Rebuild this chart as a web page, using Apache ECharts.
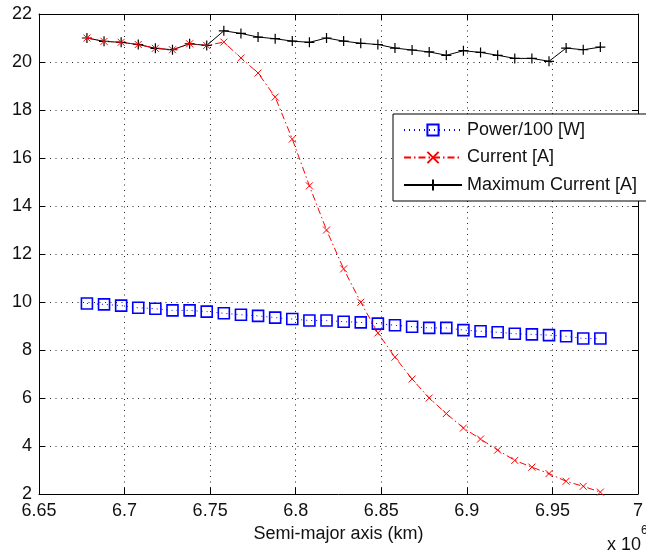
<!DOCTYPE html>
<html>
<head>
<meta charset="utf-8">
<script src="https://cdn.jsdelivr.net/npm/echarts@6/dist/echarts.min.js"></script>
<style>
html,body{margin:0;padding:0;background:#fff;}
#chart{width:646px;height:550px;}
</style>
</head>
<body>
<div id="chart"></div>
<script>
// Semi-major axis (x 10^6 km)
var semiMajorAxis = [6.678, 6.688, 6.698, 6.708, 6.718, 6.728, 6.738, 6.748, 6.758, 6.768, 6.778, 6.788, 6.798, 6.808, 6.818, 6.828, 6.838, 6.848, 6.858, 6.868, 6.878, 6.888, 6.898, 6.908, 6.918, 6.928, 6.938, 6.948, 6.958, 6.968, 6.978];
var powerOver100 = [9.94, 9.90, 9.85, 9.76, 9.72, 9.65, 9.65, 9.60, 9.53, 9.47, 9.42, 9.35, 9.29, 9.23, 9.23, 9.18, 9.15, 9.10, 9.03, 8.97, 8.92, 8.92, 8.83, 8.78, 8.74, 8.68, 8.65, 8.62, 8.57, 8.48, 8.48];
var current = [21.0, 20.86, 20.82, 20.73, 20.57, 20.51, 20.76, 20.69, 20.83, 20.17, 19.54, 18.54, 16.79, 14.84, 13.0, 11.38, 9.99, 8.71, 7.70, 6.79, 6.0, 5.35, 4.75, 4.29, 3.83, 3.40, 3.12, 2.85, 2.53, 2.32, 2.08];
var maxCurrent = [21.0, 20.86, 20.82, 20.73, 20.57, 20.51, 20.76, 20.69, 21.30, 21.19, 21.04, 20.97, 20.87, 20.82, 21.0, 20.87, 20.78, 20.73, 20.58, 20.50, 20.42, 20.28, 20.47, 20.40, 20.28, 20.15, 20.15, 20.03, 20.58, 20.51, 20.62];
var seriesNames = ['Power/100 [W]', 'Current [A]', 'Maximum Current [A]'];
var xLabel = 'Semi-major axis (km)';

function pairs(xs, ys){ return xs.map(function(x,i){ return [x, ys[i]]; }); }

var FONT = 'Liberation Sans';
var FS = 18;
var chart = echarts.init(document.getElementById('chart'), null, {renderer:'canvas'});
var gridLine = {show:true, lineStyle:{color:'#222', width:1, type:[1,4.5]}};
var fmtX = function(v){ return String(parseFloat(v.toFixed(2))); };

chart.setOption({
  animation:false,
  backgroundColor:'#fff',
  grid:{left:39, top:14, width:608, height:480, containLabel:false},
  xAxis:[{
    type:'value', min:6.65, max:7, interval:0.05, position:'bottom',
    name:xLabel, nameLocation:'middle', nameGap:30,
    nameTextStyle:{fontFamily:FONT, fontSize:FS, color:'#111'},
    axisLine:{show:true, onZero:false, lineStyle:{color:'#000', width:1}},
    axisTick:{show:true, inside:true, length:6, lineStyle:{color:'#000'}},
    axisLabel:{show:true, margin:8, formatter:fmtX, fontFamily:FONT, fontSize:FS, color:'#111'},
    splitLine:gridLine
  },{
    type:'value', min:6.65, max:7, interval:0.05, position:'top',
    axisLine:{show:true, onZero:false, lineStyle:{color:'#000', width:1}},
    axisTick:{show:true, inside:true, length:6, lineStyle:{color:'#000'}},
    axisLabel:{show:false}, splitLine:{show:false}
  }],
  yAxis:[{
    type:'value', min:2, max:22, interval:2, position:'left',
    axisLine:{show:true, onZero:false, lineStyle:{color:'#000', width:1}},
    axisTick:{show:true, inside:true, length:6, lineStyle:{color:'#000'}},
    axisLabel:{show:true, margin:7, fontFamily:FONT, fontSize:FS, color:'#111'},
    splitLine:gridLine
  },{
    type:'value', min:2, max:22, interval:2, position:'right',
    axisLine:{show:true, onZero:false, lineStyle:{color:'#000', width:1}},
    axisTick:{show:true, inside:true, length:6, lineStyle:{color:'#000'}},
    axisLabel:{show:false}, splitLine:{show:false}
  }],
  legend:{
    orient:'vertical', left:393, top:114,
    padding:[7, 40, 7, 10], itemGap:9.5, itemWidth:58, itemHeight:14,
    borderColor:'#000', borderWidth:1, backgroundColor:'#fff',
    textStyle:{fontFamily:FONT, fontSize:FS, color:'#111'},
    data:seriesNames
  },
  series:[{
    name:seriesNames[0], type:'line', xAxisIndex:0, yAxisIndex:0,
    data:pairs(semiMajorAxis, powerOver100),
    symbol:'rect', symbolSize:11,
    lineStyle:{color:'#0000ff', width:1, type:[1,4]},
    itemStyle:{color:'rgba(0,0,0,0)', borderColor:'#0000ff', borderWidth:1.6},
    z:2
  },{
    name:seriesNames[2], type:'line', xAxisIndex:0, yAxisIndex:0,
    data:pairs(semiMajorAxis, maxCurrent),
    symbol:'path://M5,0L5,10M0,5L10,5', symbolSize:10, symbolKeepAspect:true,
    lineStyle:{color:'#000', width:1, type:'solid'},
    itemStyle:{color:'rgba(0,0,0,0)', borderColor:'#000', borderWidth:1.2},
    z:3
  },{
    name:seriesNames[1], type:'line', xAxisIndex:0, yAxisIndex:0,
    data:pairs(semiMajorAxis, current),
    symbol:'path://M0,0L10,10M10,0L0,10', symbolSize:7, symbolKeepAspect:true,
    lineStyle:{color:'#ff0000', width:1, type:[7,3,1.5,3]},
    itemStyle:{color:'rgba(0,0,0,0)', borderColor:'#ff0000', borderWidth:1},
    z:4
  }],
  graphic:[{
    type:'text', left:607, top:536,
    style:{text:'x 10', fontFamily:FONT, fontSize:FS, fill:'#111'}
  },{
    type:'text', left:641, top:525,
    style:{text:'6', fontFamily:FONT, fontSize:12, fill:'#111'}
  }]
});
</script>
</body>
</html>
